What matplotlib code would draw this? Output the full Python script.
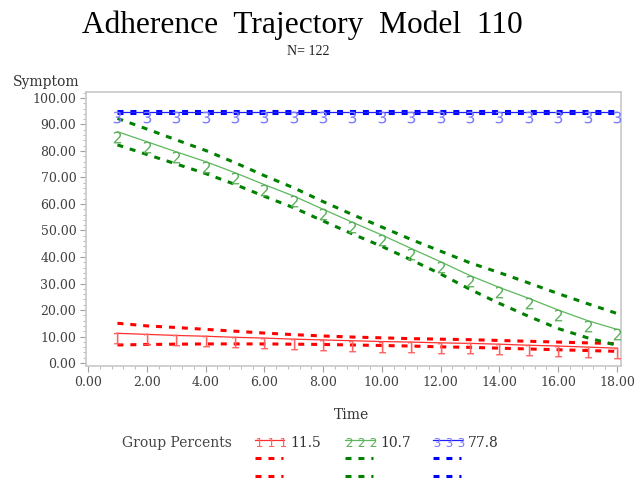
import matplotlib
matplotlib.use('Agg')
import matplotlib.pyplot as plt
import matplotlib.transforms as mtransforms
from matplotlib.ticker import MultipleLocator, FormatStrFormatter
import numpy as np

plt.rcParams['lines.scale_dashes'] = False
plt.rcParams['font.family'] = 'DejaVu Serif'

# Data
time = list(range(1, 19))

red_pred = [11.2, 10.8, 10.4, 10.1, 9.7, 9.4, 9.0, 8.7, 8.4, 8.1, 7.9, 7.6, 7.4, 7.1, 6.7, 6.4, 6.0, 5.6]
red_upper = [15.0, 14.0, 13.4, 12.7, 12.0, 11.3, 10.7, 10.2, 9.8, 9.5, 9.2, 9.0, 8.8, 8.5, 8.2, 7.9, 7.6, 7.3]
red_lower = [6.8, 7.0, 7.1, 7.2, 7.2, 7.2, 7.1, 7.0, 6.8, 6.6, 6.4, 6.1, 5.9, 5.6, 5.3, 5.0, 4.7, 4.4]

green_pred = [87.3, 83.5, 79.7, 76.0, 71.8, 67.3, 63.0, 58.0, 53.1, 48.3, 43.2, 38.2, 33.0, 28.5, 24.4, 20.0, 16.0, 12.7]
green_upper = [92.3, 88.3, 84.2, 80.2, 75.6, 70.7, 66.1, 60.9, 56.0, 51.3, 46.6, 42.2, 37.8, 34.1, 30.2, 26.2, 22.4, 18.7]
green_lower = [82.3, 78.7, 75.1, 71.5, 67.4, 62.9, 58.6, 53.6, 48.7, 44.0, 38.9, 33.6, 27.8, 22.5, 17.6, 13.0, 9.5, 6.7]

blue_pred = [94.6, 94.6, 94.6, 94.6, 94.6, 94.6, 94.6, 94.6, 94.6, 94.6, 94.6, 94.6, 94.6, 94.6, 94.6, 94.6, 94.6, 94.6]
blue_upper = [95.0, 95.0, 95.0, 95.0, 95.0, 95.0, 95.0, 95.0, 95.0, 95.0, 95.0, 95.0, 95.0, 95.0, 95.0, 95.0, 95.0, 95.0]
blue_lower = [94.2, 94.2, 94.2, 94.2, 94.2, 94.2, 94.2, 94.2, 94.2, 94.2, 94.2, 94.2, 94.2, 94.2, 94.2, 94.2, 94.2, 94.2]

group_labels = ['1', '2', '3']
group_percents = ['11.5', '10.7', '77.8']

groups = [
    (red_pred, red_upper, red_lower, '#ff3030', '#ff6060', '#ff0000'),
    (green_pred, green_upper, green_lower, '#5cb85c', '#5cb05c', '#008000'),
    (blue_pred, blue_upper, blue_lower, '#2020ff', '#7a7aff', '#0000ff'),
]

W, H = 634, 480
fig = plt.figure(figsize=(W / 100, H / 100), dpi=100)

# plot area in pixels: left 86, right 621, top 92, bottom 366
ax = fig.add_axes([86 / W, 1 - 366 / H, (621 - 86) / W, (366 - 92) / H])

dash = (0, (4.3, 5.0))
mark_shift = mtransforms.ScaledTranslation(0, -3.6 / 72, fig.dpi_scale_trans)

for (pred, up, lo, c_line, c_mark, c_dash), lab in zip(groups, group_labels):
    ax.plot(time, up, color=c_dash, lw=2.2, ls=dash, zorder=2)
    ax.plot(time, lo, color=c_dash, lw=2.2, ls=dash, zorder=2)
    ax.plot(time, pred, color=c_line, lw=0.9, zorder=3)
    ax.plot(time, pred, ls='none', marker='$' + lab + '$', markersize=8.5,
            color=c_mark, markeredgewidth=0, zorder=4,
            transform=ax.transData + mark_shift)

ax.set_xlim(-0.07, 18.14)
ax.set_ylim(-1.13, 102.26)
ax.xaxis.set_major_locator(MultipleLocator(2))
ax.xaxis.set_minor_locator(MultipleLocator(0.4))
ax.yaxis.set_major_locator(MultipleLocator(10))
ax.yaxis.set_minor_locator(MultipleLocator(2))
ax.xaxis.set_major_formatter(FormatStrFormatter('%.2f'))
ax.yaxis.set_major_formatter(FormatStrFormatter('%.2f'))

for s in ax.spines.values():
    s.set_color('#c8c8c8')
    s.set_linewidth(1.2)
ax.tick_params(which='major', length=4, width=0.8, color='#a0a0a0',
               labelsize=9, labelcolor='#404040', pad=3)
ax.tick_params(which='minor', length=2, width=0.6, color='#b0b0b0')

# overlay in pixel coordinates for titles and the legend
ov = fig.add_axes([0, 0, 1, 1], facecolor='none')
ov.set_xlim(0, W)
ov.set_ylim(H, 0)
ov.axis('off')

ov.text(302.5, 33, 'Adherence  Trajectory  Model  110', ha='center', va='baseline',
        fontsize=22.6, family='Liberation Serif', color='black')
ov.text(308.5, 55, 'N= 122', ha='center', va='baseline', fontsize=10,
        family='Liberation Serif', color='#222222')
ov.text(13, 86, 'Symptom', ha='left', va='baseline', fontsize=10, color='#333333')
ov.text(352, 419, 'Time', ha='center', va='baseline', fontsize=10, color='#333333')

ov.text(122, 447, 'Group Percents', ha='left', va='baseline', fontsize=10, color='#444444')
leg_x = [255, 345, 433]
leg_shift = mtransforms.ScaledTranslation(0, -2.0 / 72, fig.dpi_scale_trans)
for (pred, up, lo, c_line, c_mark, c_dash), lab, pct, x0 in zip(groups, group_labels, group_percents, leg_x):
    ov.plot([x0, x0 + 29], [439.5, 439.5], color=c_line, lw=0.9)
    ov.plot(np.linspace(x0 + 4, x0 + 28, 3), [439.5] * 3, ls='none',
            marker='$' + lab + '$', markersize=6.5, color=c_mark, markeredgewidth=0,
            transform=ov.transData + leg_shift)
    ov.text(x0 + 35, 447, pct, ha='left', va='baseline', fontsize=10, color='#333333')
    for yy in (457.5, 476):
        ov.plot([x0, x0 + 28], [yy, yy], color=c_dash, lw=2.2, ls=(0, (4.3, 5.0)))

fig.savefig('out.png', dpi=100)
